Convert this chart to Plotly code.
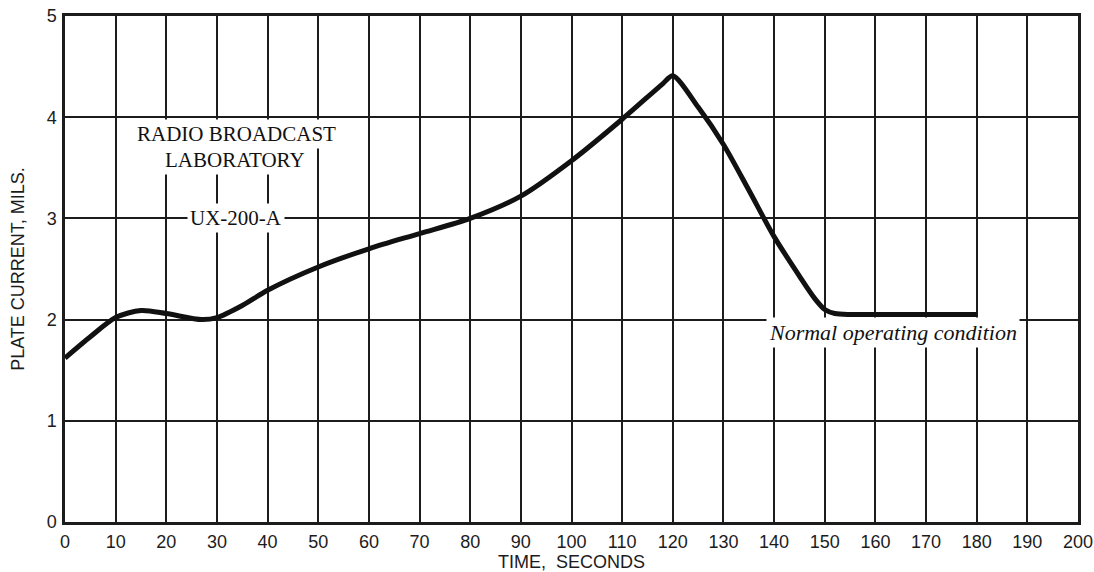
"""Plate current of a UX-200-A tube against time after switch-on."""

import plotly.graph_objects as go

# time in seconds, plate current in mils
time_s = [0, 5, 10, 15, 20, 27, 30, 35, 40, 50, 60, 70, 80, 90, 100,
          110, 118, 120, 125, 130, 135, 140, 145, 148, 150, 152, 155,
          160, 170, 180]
plate_ma = [1.62, 1.83, 2.02, 2.09, 2.06, 2.0, 2.02, 2.14, 2.29, 2.52, 2.70,
            2.85, 3.0, 3.22, 3.57, 3.98, 4.33, 4.41, 4.10, 3.73, 3.28, 2.82,
            2.43, 2.21, 2.10, 2.06, 2.05, 2.05, 2.05, 2.05]

x_ticks = list(range(0, 201, 10))
y_ticks = [0, 1, 2, 3, 4, 5]

INK = "#1c1c1c"
SERIF = "Liberation Serif, DejaVu Serif, serif"
SANS = "Liberation Sans, Arial, sans-serif"

fig = go.Figure()
fig.add_trace(
    go.Scatter(
        x=time_s,
        y=plate_ma,
        mode="lines",
        line=dict(color="#111111", width=5, shape="spline", smoothing=0.8),
        showlegend=False,
        hoverinfo="skip",
    )
)


def _label(x, y, text, size=22, italic=False):
    fig.add_annotation(
        x=x,
        y=y,
        xref="x",
        yref="y",
        text=f"<i>{text}</i>" if italic else text,
        showarrow=False,
        bgcolor="white",
        borderpad=2,
        font=dict(family=SERIF, size=size, color="#111111"),
    )


_label(33.9, 3.83, "RADIO BROADCAST", size=21)
_label(33.6, 3.58, "LABORATORY", size=21)
_label(33.8, 3.0, "UX-200-A", size=21)
_label(163.5, 1.87, "Normal operating condition", size=22, italic=True)

fig.update_layout(
    width=1094,
    height=572,
    margin=dict(l=65, r=16, t=16, b=50),
    paper_bgcolor="white",
    plot_bgcolor="white",
    font=dict(family=SANS, color=INK),
)
fig.update_xaxes(
    range=[0, 200],
    tickvals=x_ticks,
    ticktext=[str(v) for v in x_ticks],
    showgrid=True,
    gridcolor=INK,
    gridwidth=1.6,
    showline=True,
    linecolor=INK,
    linewidth=2.5,
    mirror=True,
    zeroline=False,
    ticks="",
    ticklabelstandoff=2,
    ticklabeloverflow="allow",
    tickfont=dict(size=18),
    automargin=False,
    title=dict(text="TIME,  SECONDS", font=dict(size=18), standoff=5),
)
fig.update_yaxes(
    range=[0, 5],
    tickvals=y_ticks,
    showgrid=True,
    gridcolor=INK,
    gridwidth=1.6,
    showline=True,
    linecolor=INK,
    linewidth=2.5,
    mirror=True,
    zeroline=False,
    ticks="",
    ticklabelstandoff=2,
    ticklabeloverflow="allow",
    tickfont=dict(size=18),
    automargin=False,
    title=dict(text="PLATE CURRENT, MILS.", font=dict(size=18), standoff=18),
)

# drop the browser's default body margin so the figure fills the window
fig.write_html(
    "out.html",
    config={"displayModeBar": False},
    post_script="document.body.style.margin='0';",
)
